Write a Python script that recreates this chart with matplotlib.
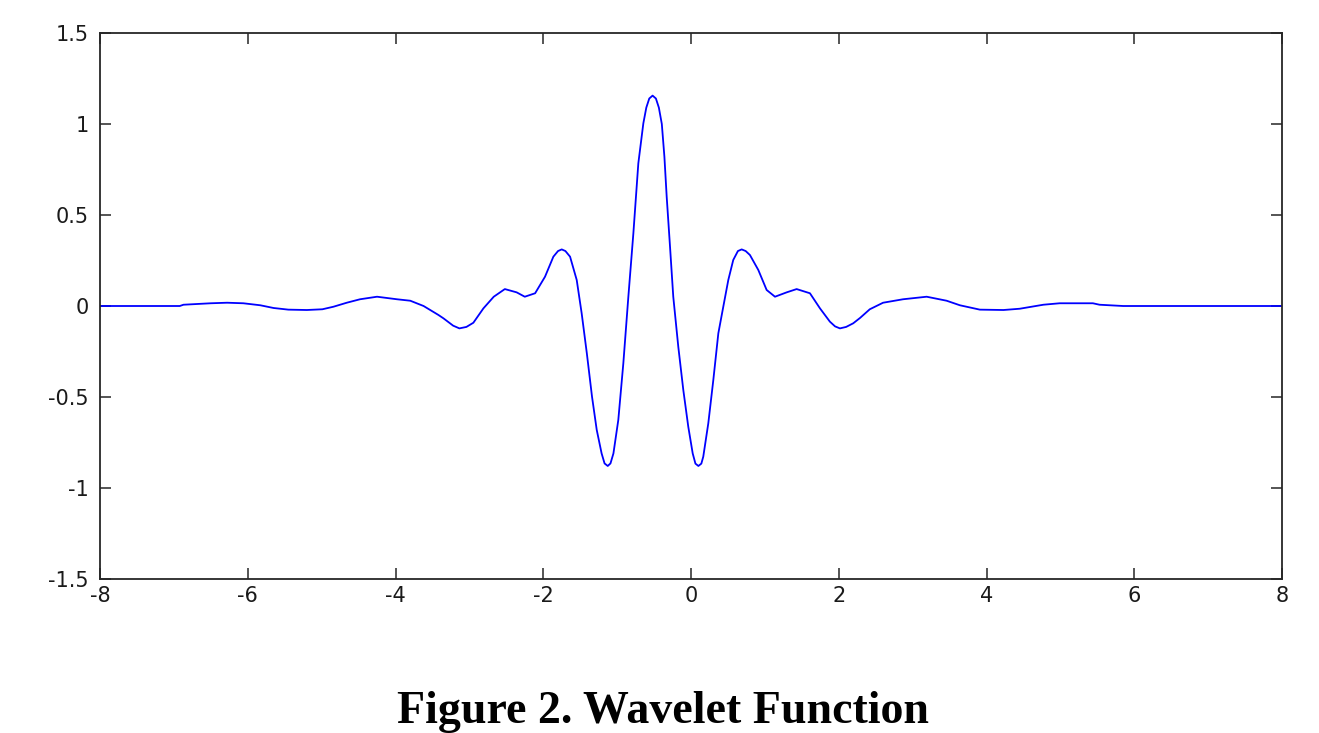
import matplotlib
matplotlib.use("Agg")
import matplotlib.pyplot as plt

# values
x_vals = [-8, -6.92, -6.87, -6.5, -6.28, -6.06, -5.83, -5.65, -5.45, -5.2, -4.99,
          -4.84, -4.66, -4.48, -4.25, -3.98, -3.8, -3.62, -3.42, -3.35, -3.22, -3.135,
          -3.04, -2.946, -2.81, -2.67, -2.52, -2.36, -2.25, -2.11, -1.976, -1.863,
          -1.80, -1.75, -1.70, -1.637, -1.547, -1.48, -1.41, -1.34, -1.276, -1.21,
          -1.17, -1.127, -1.09, -1.05, -0.984, -0.916, -0.848, -0.78, -0.713, -0.645,
          -0.605, -0.565, -0.52, -0.475, -0.435, -0.395, -0.36, -0.329, -0.284,
          -0.24, -0.172, -0.104, -0.037, 0.023, 0.06, 0.10, 0.14, 0.166, 0.234,
          0.302, 0.37, 0.437, 0.505, 0.572, 0.635, 0.686, 0.74, 0.798, 0.911, 1.024,
          1.137, 1.295, 1.43, 1.61, 1.746, 1.88, 1.95, 2.016, 2.10, 2.196, 2.29, 2.42,
          2.6, 2.87, 3.19, 3.46, 3.64, 3.91, 4.23, 4.45, 4.77, 4.99, 5.22, 5.44, 5.53,
          5.85, 6.89, 8]
y_vals = [0.0, 0.0, 0.007, 0.015, 0.018, 0.015, 0.004, -0.011, -0.02, -0.022, -0.018,
          -0.004, 0.018, 0.037, 0.051, 0.037, 0.029, 0.0, -0.049, -0.068, -0.108, -0.123,
          -0.115, -0.092, -0.013, 0.051, 0.093, 0.075, 0.051, 0.07, 0.161, 0.271,
          0.302, 0.311, 0.302, 0.271, 0.143, -0.04, -0.26, -0.498, -0.681, -0.81,
          -0.865, -0.879, -0.865, -0.81, -0.626, -0.315, 0.051, 0.4, 0.784, 1.004,
          1.09, 1.14, 1.156, 1.14, 1.09, 1.0, 0.82, 0.6, 0.326,
          0.051, -0.224, -0.462, -0.663, -0.81, -0.866, -0.879, -0.866, -0.828, -0.645,
          -0.407, -0.15, -0.004, 0.143, 0.253, 0.302, 0.311, 0.302, 0.28, 0.198, 0.088,
          0.051, 0.075, 0.093, 0.07, -0.013, -0.086, -0.112, -0.123, -0.115, -0.095, -0.065, -0.018,
          0.018, 0.037, 0.051, 0.029, 0.004, -0.02, -0.022, -0.015, 0.007, 0.015, 0.015, 0.015, 0.007,
          0.0, 0.0, 0.0]

x_ticks = [-8, -6, -4, -2, 0, 2, 4, 6, 8]
y_ticks = [-1.5, -1, -0.5, 0, 0.5, 1, 1.5]
x_tick_labels = ["-8", "-6", "-4", "-2", "0", "2", "4", "6", "8"]
y_tick_labels = ["-1.5", "-1", "-0.5", "0", "0.5", "1", "1.5"]
caption = "Figure 2. Wavelet Function"

W, H = 1319, 733
fig = plt.figure(figsize=(W / 100, H / 100), dpi=100)
ax = fig.add_axes([100 / W, 1 - 579 / H, (1282 - 100) / W, (579 - 33) / H])

ax.plot(x_vals, y_vals, color="#0000ff", lw=1.3)

ax.set_xlim(-8, 8)
ax.set_ylim(-1.5, 1.5)
ax.set_xticks(x_ticks)
ax.set_xticklabels(x_tick_labels)
ax.set_yticks(y_ticks)
ax.set_yticklabels(y_tick_labels)

for s in ax.spines.values():
    s.set_color("#262626")
    s.set_linewidth(1.3)

ax.tick_params(direction="in", length=8, width=1.1, color="#262626",
               top=True, right=True, labelsize=15, labelcolor="#1a1a1a")
ax.tick_params(axis="x", pad=5)
ax.tick_params(axis="y", pad=8)
for lab in ax.get_xticklabels() + ax.get_yticklabels():
    lab.set_fontfamily("DejaVu Sans")

fig.text(663 / W, 1 - 723 / H, caption, ha="center", va="baseline",
         fontsize=33, fontweight="bold", family="Liberation Serif", color="black")

fig.savefig("out.png", dpi=100)
